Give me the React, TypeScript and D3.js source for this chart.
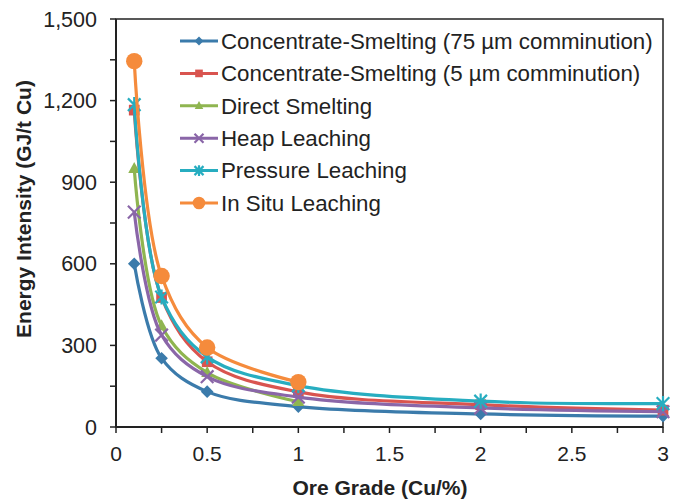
import React from 'react';
import * as d3 from 'd3';

// ore grade (Cu %) at which each route was evaluated
const grades = [0.1, 0.25, 0.5, 1, 2, 3];

// energy intensity, GJ/t Cu
const cs75 = [600, 253, 130, 75, 48, 40];
const cs5 = [1165, 476, 240, 129, 82, 62];
const directSmelting = [950, 372, 200, 93];
const heapLeaching = [790, 338, 185, 110, 70, 56];
const pressureLeaching = [1185, 478, 258, 152, 95, 86];
const inSituLeaching = [1345, 555, 292, 165];

const seriesNames = [
  'Concentrate-Smelting (75 µm comminution)',
  'Concentrate-Smelting (5 µm comminution)',
  'Direct Smelting',
  'Heap Leaching',
  'Pressure Leaching',
  'In Situ Leaching',
];

const xTicks = [0, 0.5, 1, 1.5, 2, 2.5, 3];
const yTicks = [0, 300, 600, 900, 1200, 1500];

const colors = ['#3b7bab', '#d9544f', '#8fb550', '#8a66a8', '#27adc0', '#f58b3c'];
const markers = ['diamond', 'square', 'triangle', 'x', 'star', 'circle'];

const width = 681;
const height = 499;
const margin = { top: 19, right: 18, bottom: 72, left: 116 };

const markerPath = (kind: string, s: number) => {
  switch (kind) {
    case 'diamond':
      return `M0,${-s}L${s},0L0,${s}L${-s},0Z`;
    case 'square':
      return `M${-s * 0.85},${-s * 0.85}h${s * 1.7}v${s * 1.7}h${-s * 1.7}Z`;
    case 'triangle':
      return `M0,${-s * 1.05}L${s * 0.95},${s * 0.7}L${-s * 0.95},${s * 0.7}Z`;
    case 'x':
      return `M${-s},${-s}L${s},${s}M${-s},${s}L${s},${-s}`;
    case 'star':
      return `M${-s},${-s}L${s},${s}M${-s},${s}L${s},${-s}M0,${-s * 1.2}V${s * 1.2}`;
    default:
      return d3.symbol().type(d3.symbolCircle).size(Math.PI * s * s * 1.3)() || '';
  }
};

const Marker = ({ kind, color, x, y, s }: { kind: string; color: string; x: number; y: number; s: number }) => {
  const open = kind === 'x' || kind === 'star';
  return (
    <path
      d={markerPath(kind, s)}
      transform={`translate(${x},${y})`}
      fill={open ? 'none' : color}
      stroke={color}
      strokeWidth={open ? 2.2 : 0}
    />
  );
};

export default function App() {
  const allSeries = [cs75, cs5, directSmelting, heapLeaching, pressureLeaching, inSituLeaching];

  const x = d3.scaleLinear().domain([0, 3]).range([margin.left, width - margin.right]);
  const y = d3.scaleLinear().domain([0, 1500]).range([height - margin.bottom, margin.top]);

  const line = d3
    .line<[number, number]>()
    .x(d => x(d[0]))
    .y(d => y(d[1]))
    .curve(d3.curveCatmullRom.alpha(0.5));

  const x0 = x(0);
  const x1 = x(3);
  const y0 = y(0);
  const y1 = y(1500);
  const fmt = d3.format(',');
  const font = 'Liberation Sans, Arial, sans-serif';

  return (
    <svg
      width={width}
      height={height}
      style={{ position: 'absolute', left: 0, top: 0, background: '#fff' }}
      fontFamily={font}
    >
      {/* plot frame */}
      <rect x={x0} y={y1} width={x1 - x0} height={y0 - y1} fill="none" stroke="#222" strokeWidth={1.5} />

      {/* y ticks */}
      {d3.range(0, 1501, 150).map(v => (
        <line key={'yt' + v} x1={x0 - 6} x2={x0} y1={y(v)} y2={y(v)} stroke="#222" strokeWidth={1.5} />
      ))}
      {yTicks.map(v => (
        <text key={'yl' + v} x={x0 - 19} y={y(v) + 7.5} textAnchor="end" fontSize={21.5} fill="#222">
          {fmt(v)}
        </text>
      ))}

      {/* x ticks */}
      {d3.range(0, 3.01, 0.25).map(v => (
        <line key={'xt' + v} x1={x(v)} x2={x(v)} y1={y0} y2={y0 + 6} stroke="#222" strokeWidth={1.5} />
      ))}
      {xTicks.map(v => (
        <text key={'xl' + v} x={x(v)} y={461} textAnchor="middle" fontSize={21} fill="#222">
          {v}
        </text>
      ))}

      {/* axes */}
      <line x1={x0} x2={x0} y1={y1} y2={y0} stroke="#222" strokeWidth={2} />
      <line x1={x0} x2={x1} y1={y0} y2={y0} stroke="#222" strokeWidth={2} />

      {/* series */}
      {allSeries.map((vals, i) => {
        const pts = vals.map((v, j) => [grades[j], v] as [number, number]);
        return (
          <g key={'s' + i}>
            <path d={line(pts) || ''} fill="none" stroke={colors[i]} strokeWidth={3.2} />
            {pts.map((p, j) => (
              <Marker key={j} kind={markers[i]} color={colors[i]} x={x(p[0])} y={y(p[1])} s={i === 5 ? 7.2 : 6.3} />
            ))}
          </g>
        );
      })}

      {/* legend */}
      {seriesNames.map((name, i) => {
        const ly = 41 + i * 32.4;
        return (
          <g key={'lg' + i}>
            <line x1={180} x2={218} y1={ly} y2={ly} stroke={colors[i]} strokeWidth={3} />
            <Marker kind={markers[i]} color={colors[i]} x={199} y={ly} s={i === 5 ? 5.5 : 4.5} />
            <text x={221} y={ly + 7.8} fontSize={22.3} fill="#222">
              {name}
            </text>
          </g>
        );
      })}

      {/* axis titles */}
      <text x={380} y={495} textAnchor="middle" fontSize={21} fontWeight="bold" fill="#222">
        Ore Grade (Cu/%)
      </text>
      <text
        transform={`translate(31,209) rotate(-90)`}
        textAnchor="middle"
        fontSize={21}
        fontWeight="bold"
        fill="#222"
      >
        Energy Intensity (GJ/t Cu)
      </text>
    </svg>
  );
}
